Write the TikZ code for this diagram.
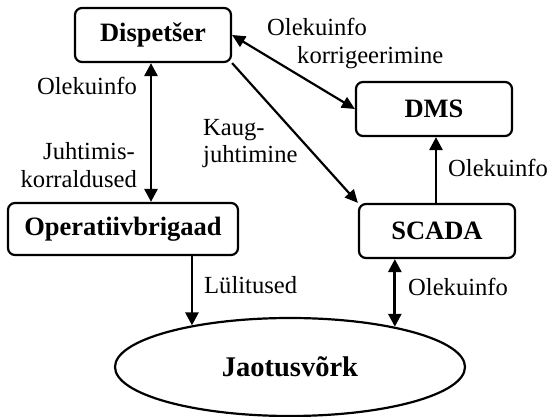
\documentclass[tikz,border=0pt]{standalone}
\usepackage{fontspec}
\setmainfont{Liberation Serif}
\usetikzlibrary{arrows.meta,shapes.geometric}

\tikzset{
  unit/.style={draw, line width=2.2pt, rounded corners=7pt, inner sep=0pt,
    font=\fontsize{26.5}{30}\selectfont\bfseries},
  net/.style={draw, ellipse, line width=2.2pt, inner sep=0pt,
    minimum width=350pt, minimum height=98pt,
    font=\fontsize{28.5}{32}\selectfont\bfseries},
  lbl/.style={inner sep=0pt, font=\fontsize{24.6}{28}\selectfont},
  flow/.style={line width=2.8pt, -{Triangle[length=13pt,width=13pt]}},
  flow2/.style={line width=2.8pt, {Triangle[length=13pt,width=13pt]}-{Triangle[length=13pt,width=13pt]}},
  diag/.style={line width=2.2pt, -{Triangle[length=13pt,width=12pt]}},
  diag2/.style={line width=2.2pt, {Triangle[length=13pt,width=12pt]}-{Triangle[length=13pt,width=12pt]}},
}

\begin{document}
\begin{tikzpicture}[x=1pt, y=-1pt]
\useasboundingbox (0,0) rectangle (550,417);

% boxes
\node[unit, minimum width=156pt, minimum height=54pt] (disp) at (153,35) {Dispetšer};
\node[unit, minimum width=156pt, minimum height=54pt] (dms)  at (434,109) {DMS};
\node[unit, minimum width=156pt, minimum height=54pt] (scada) at (437,231) {SCADA};
\node[unit, minimum width=230pt, minimum height=52pt] (oper) at (123,229) {Operatiivbrigaad};
\node[net] (net) at (290,367) {Jaotusvõrk};

% connectors
\draw[flow2] (disp.south -| 151,0) -- (oper.north -| 151,0);
\draw[diag2] (disp.east) -- (dms.west);
\draw[diag] (disp.south east) -- (scada.north west);
\draw[flow] (scada.north -| 436,0) -- (dms.south -| 436,0);
\draw[flow] (net.157.1 |- oper.south) -- (net.157.1);
\draw[flow2] (net.21.2 |- scada.south) -- (net.21.2);

% labels
\node[lbl, anchor=base west] (l1a) at (267,36) {Olekuinfo};
\node[lbl, anchor=base west] (l1b) at (297,64) {korrigeerimine};
\node[lbl, anchor=base east] (l2)  at (137,95) {Olekuinfo};
\node[lbl, anchor=base east] (l3a) at (135,160) {Juhtimis-};
\node[lbl, anchor=base east] (l3b) at (137,188) {korraldused};
\node[lbl, anchor=base west] (l4a) at (203,136) {Kaug-};
\node[lbl, anchor=base west] (l4b) at (203,163) {juhtimine};
\node[lbl, anchor=base west] (l5)  at (448,177) {Olekuinfo};
\node[lbl, anchor=base west] (l6)  at (204,294) {Lülitused};
\node[lbl, anchor=base west] (l7)  at (408,296) {Olekuinfo};
\end{tikzpicture}
\end{document}
